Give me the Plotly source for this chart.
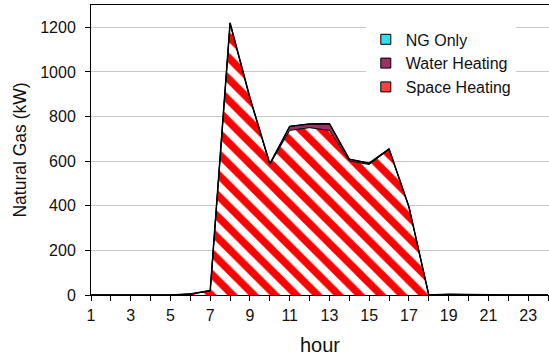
import plotly.graph_objects as go

hours = list(range(1, 25))
space_heating = [0, 0, 0, 0, 0, 4, 18, 1215, 880, 585, 738, 750, 738, 601, 585, 652, 394, 0, 2, 1, 0, 0, 0, 0]
water_heating = [0, 0, 0, 0, 0, 1, 2, 5, 4, 3, 18, 17, 30, 8, 6, 3, 2, 0, 1, 1, 0, 0, 0, 0]
ng_only = [0] * 24
tick_labels = [str(h) if h % 2 == 1 else "" for h in hours]
y_ticks = [0, 200, 400, 600, 800, 1000, 1200]

fig = go.Figure()
fig.add_trace(go.Scatter(
    x=hours, y=space_heating, name="Space Heating", stackgroup="one",
    mode="lines", line=dict(color="black", width=1), showlegend=False,
    fillcolor="white",
    fillpattern=dict(shape="\\", fgcolor="#FF0000", bgcolor="white",
                     fgopacity=1, size=15, solidity=0.5),
))
fig.add_trace(go.Scatter(
    x=hours, y=water_heating, name="Water Heating", stackgroup="one",
    mode="lines", line=dict(color="black", width=1), fillcolor="#993366",
    showlegend=False,
))
fig.add_trace(go.Scatter(
    x=hours, y=ng_only, name="NG Only", stackgroup="one",
    mode="lines", line=dict(color="black", width=1.5), fillcolor="#33DDEE",
    showlegend=False,
))

# legend entries (square swatches as in the reference)
legend_items = [("NG Only", "#33DDEE"), ("Water Heating", "#993366"), ("Space Heating", "#FF4040")]
for name, col in legend_items:
    fig.add_trace(go.Scatter(
        x=[None], y=[None], mode="markers", name=name,
        marker=dict(symbol="square", size=10, color=col, line=dict(color="black", width=1)),
    ))

fig.update_layout(
    width=549, height=362,
    margin=dict(l=91, r=0, t=5, b=67),
    paper_bgcolor="white", plot_bgcolor="white",
    font=dict(family="Liberation Sans, Arial", size=16, color="#111"),
    showlegend=True,
    legend=dict(
        x=0.6, y=0.94, xanchor="left", yanchor="top",
        bgcolor="white", traceorder="normal",
        font=dict(size=16), itemwidth=30, tracegroupgap=0,
    ),
    xaxis=dict(
        range=[1, 24.05], tickvals=hours, ticktext=tick_labels,
        ticks="outside", ticklen=5, tickcolor="black", ticklabelstandoff=1,
        showline=True, linecolor="black", linewidth=1, mirror=True,
        showgrid=False, zeroline=False,
        title=dict(text="hour", font=dict(size=20), standoff=14),
        tickfont=dict(size=16),
    ),
    yaxis=dict(
        range=[0, 1300], tickvals=y_ticks,
        ticks="outside", ticklen=5, tickcolor="black", ticklabelstandoff=6,
        showline=True, linecolor="black", linewidth=1,
        showgrid=True, gridcolor="#C8C8C8", gridwidth=1, zeroline=False,
        title=dict(text="Natural Gas (kW)", font=dict(size=17.5), standoff=9),
        tickfont=dict(size=16),
    ),
)

fig.write_html("out.html")
